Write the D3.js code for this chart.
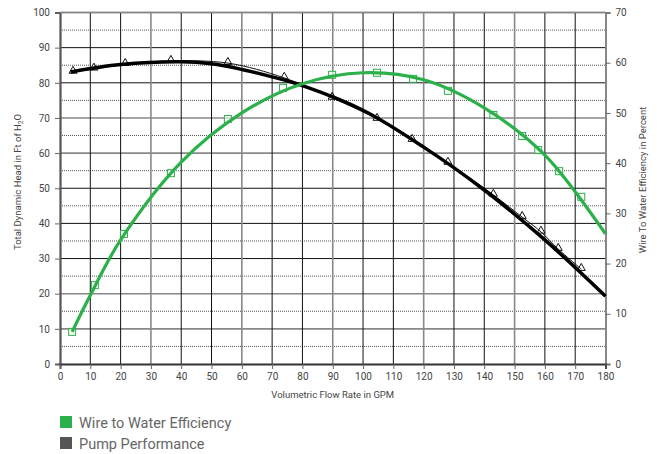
<!DOCTYPE html>
<html>
<head>
<meta charset="utf-8">
<script src="https://cdn.jsdelivr.net/npm/d3@7"></script>
<style>
 body { margin:0; background:#fff; }
 text { font-family: Roboto, "Noto Sans", sans-serif; }
</style>
</head>
<body>
<script>
// pump performance (GPM, ft of head)
var pumpFlow = [4.3, 11.2, 21.5, 36.6, 55.4, 74, 89.8, 104.6, 116.2, 128, 143, 152.5, 158.7, 164.4, 172];
var pumpHead = [83.1, 84, 85.3, 86.2, 85.6, 81.4, 75.7, 69.7, 63.7, 57.2, 48.1, 41.8, 37.6, 32.7, 27];
// thick trend curve of the pump
var pumpTrendFlow = [3.5, 20, 40, 50, 60, 70, 80, 100, 120, 140, 160, 180];
var pumpTrendHead = [83.1, 85.2, 86, 85.4, 83.8, 81.7, 79.2, 72.2, 61.7, 49.5, 35.3, 19.3];

// wire to water efficiency (GPM, percent)
var effFlow = [4, 11.5, 21.1, 36.6, 55.4, 73.6, 89.8, 104.6, 116.5, 128, 143, 152.5, 157.8, 164.7, 172];
var effPct = [6.4, 15.7, 25.9, 38, 48.8, 55, 57.6, 58, 56.8, 54.4, 49.6, 45.4, 42.6, 38.4, 33.3];
var effTrendFlow = [4, 10, 20, 40, 60, 80, 100, 120, 140, 160, 180];
var effTrendPct = [6.4, 13.7, 24.7, 40.2, 50, 55.8, 58, 56.6, 51, 41.6, 25.9];

var xTicks = d3.range(0, 181, 10);
var leftTicks = d3.range(0, 101, 10);
var rightTicks = d3.range(0, 71, 10);
var legendItems = ["Wire to Water Efficiency", "Pump Performance"];
var legendColors = ["#2bb04a", "#555555"];

var W = 657, H = 454;
var svg = d3.select("body").append("svg").attr("width", W).attr("height", H);

var x = d3.scaleLinear().domain([0, 180]).range([60, 605.5]);
var yL = d3.scaleLinear().domain([0, 100]).range([364, 12.5]);
var yR = d3.scaleLinear().domain([0, 70]).range([364, 12.5]);

/* grid */
var grid = svg.append("g");
grid.selectAll(".minor").data(d3.range(5, 100, 10)).enter().append("line")
 .attr("x1", x(0)).attr("x2", x(180))
 .attr("y1", function(d) { return yL(d); }).attr("y2", function(d) { return yL(d); })
 .attr("stroke", "#555").attr("stroke-width", 1).attr("stroke-dasharray", "1,1");
grid.selectAll(".hmaj").data(d3.range(10, 101, 10)).enter().append("line")
 .attr("x1", x(0)).attr("x2", x(180))
 .attr("y1", function(d) { return yL(d); }).attr("y2", function(d) { return yL(d); })
 .attr("stroke", function(d) { return (d % 50 == 20 || d % 50 == 10 || d == 100) ? "#888" : "#111"; })
 .attr("stroke-width", function(d) { return (d % 50 == 20 || d % 50 == 10 || d == 100) ? 1.6 : 1; });
grid.selectAll(".vmaj").data(d3.range(10, 180, 10)).enter().append("line")
 .attr("y1", yL(0)).attr("y2", yL(100))
 .attr("x1", function(d) { return x(d); }).attr("x2", function(d) { return x(d); })
 .attr("stroke", function(d) { return d % 30 == 0 ? "#888" : "#111"; })
 .attr("stroke-width", function(d) { return d % 30 == 0 ? 1.6 : 1; });

/* axes */
var axL = svg.append("g").attr("transform", "translate(" + x(0) + ",0)")
 .call(d3.axisLeft(yL).tickValues(leftTicks).tickSize(5).tickPadding(5));
var axR = svg.append("g").attr("transform", "translate(" + x(180) + ",0)")
 .call(d3.axisRight(yR).tickValues(rightTicks).tickSize(5).tickPadding(5));
var axB = svg.append("g").attr("transform", "translate(0," + yL(0) + ")")
 .call(d3.axisBottom(x).tickValues(xTicks).tickSize(5).tickPadding(4));
[axL, axR, axB].forEach(function(a) {
 a.selectAll("text").attr("fill", "#444").attr("font-size", 10);
 a.selectAll(".tick line").attr("stroke", "#666");
});
axL.select(".domain").attr("stroke", "#555").attr("stroke-width", 2.2);
axR.select(".domain").attr("stroke", "#888").attr("stroke-width", 2);
axB.select(".domain").attr("stroke", "#333").attr("stroke-width", 2);
svg.append("line").attr("x1", x(0)).attr("x2", x(180)).attr("y1", yL(100)).attr("y2", yL(100))
 .attr("stroke", "#888").attr("stroke-width", 1.6);

/* axis titles */
svg.append("text").text("Volumetric Flow Rate in GPM")
 .attr("x", (x(0) + x(180)) / 2).attr("y", 398).attr("text-anchor", "middle")
 .attr("font-size", 9.5).attr("fill", "#444");
var tl = svg.append("text").attr("transform", "translate(21,182) rotate(-90)")
 .attr("text-anchor", "middle").attr("font-size", 9.5).attr("fill", "#444");
tl.append("tspan").text("Total Dynamic Head in Ft of H");
tl.append("tspan").text("2").attr("font-size", 6.5).attr("dy", 2);
tl.append("tspan").text("O").attr("dy", -2);
svg.append("text").text("Wire To Water Efficiency in Percent")
 .attr("transform", "translate(646,180) rotate(-90)")
 .attr("text-anchor", "middle").attr("font-size", 9.5).attr("fill", "#444");

/* series */
var pumpPts = pumpFlow.map(function(d, i) { return [d, pumpHead[i]]; });
var effPts = effFlow.map(function(d, i) { return [d, effPct[i]]; });
var pumpTrend = pumpTrendFlow.map(function(d, i) { return [d, pumpTrendHead[i]]; });
var effTrend = effTrendFlow.map(function(d, i) { return [d, effTrendPct[i]]; });

var linePump = d3.line().x(function(d) { return x(d[0]); }).y(function(d) { return yL(d[1]); }).curve(d3.curveCatmullRom);
var lineEff = d3.line().x(function(d) { return x(d[0]); }).y(function(d) { return yR(d[1]); }).curve(d3.curveCatmullRom);

svg.append("path").attr("d", linePump(pumpPts)).attr("fill", "none").attr("stroke", "#111").attr("stroke-width", 1);

svg.selectAll(".tri").data(pumpPts).enter().append("path")
 .attr("d", d3.symbol().type(d3.symbolTriangle).size(28))
 .attr("transform", function(d) { return "translate(" + x(d[0]) + "," + (yL(d[1]) - 1) + ")"; })
 .attr("fill", "none").attr("stroke", "#111").attr("stroke-width", 1);
svg.selectAll(".sq").data(effPts).enter().append("rect")
 .attr("x", function(d) { return x(d[0]) - 3.5; }).attr("y", function(d) { return yR(d[1]) - 3.5; })
 .attr("width", 7).attr("height", 7)
 .attr("fill", "rgba(255,255,255,0.6)").attr("stroke", "#2bb04a").attr("stroke-width", 1);

svg.append("path").attr("d", linePump(pumpTrend)).attr("fill", "none").attr("stroke", "#000").attr("stroke-width", 3.5);
svg.append("path").attr("d", lineEff(effTrend)).attr("fill", "none").attr("stroke", "#2bb04a").attr("stroke-width", 3.2);

/* legend */
var lg = svg.selectAll(".lg").data(legendItems).enter().append("g")
 .attr("transform", function(d, i) { return "translate(60," + (416 + i * 21) + ")"; });
lg.append("rect").attr("width", 12).attr("height", 12).attr("fill", function(d, i) { return legendColors[i]; });
lg.append("text").text(function(d) { return d; }).attr("x", 19).attr("y", 11.5)
 .attr("font-size", 14.5).attr("fill", "#666");
</script>
</body>
</html>
